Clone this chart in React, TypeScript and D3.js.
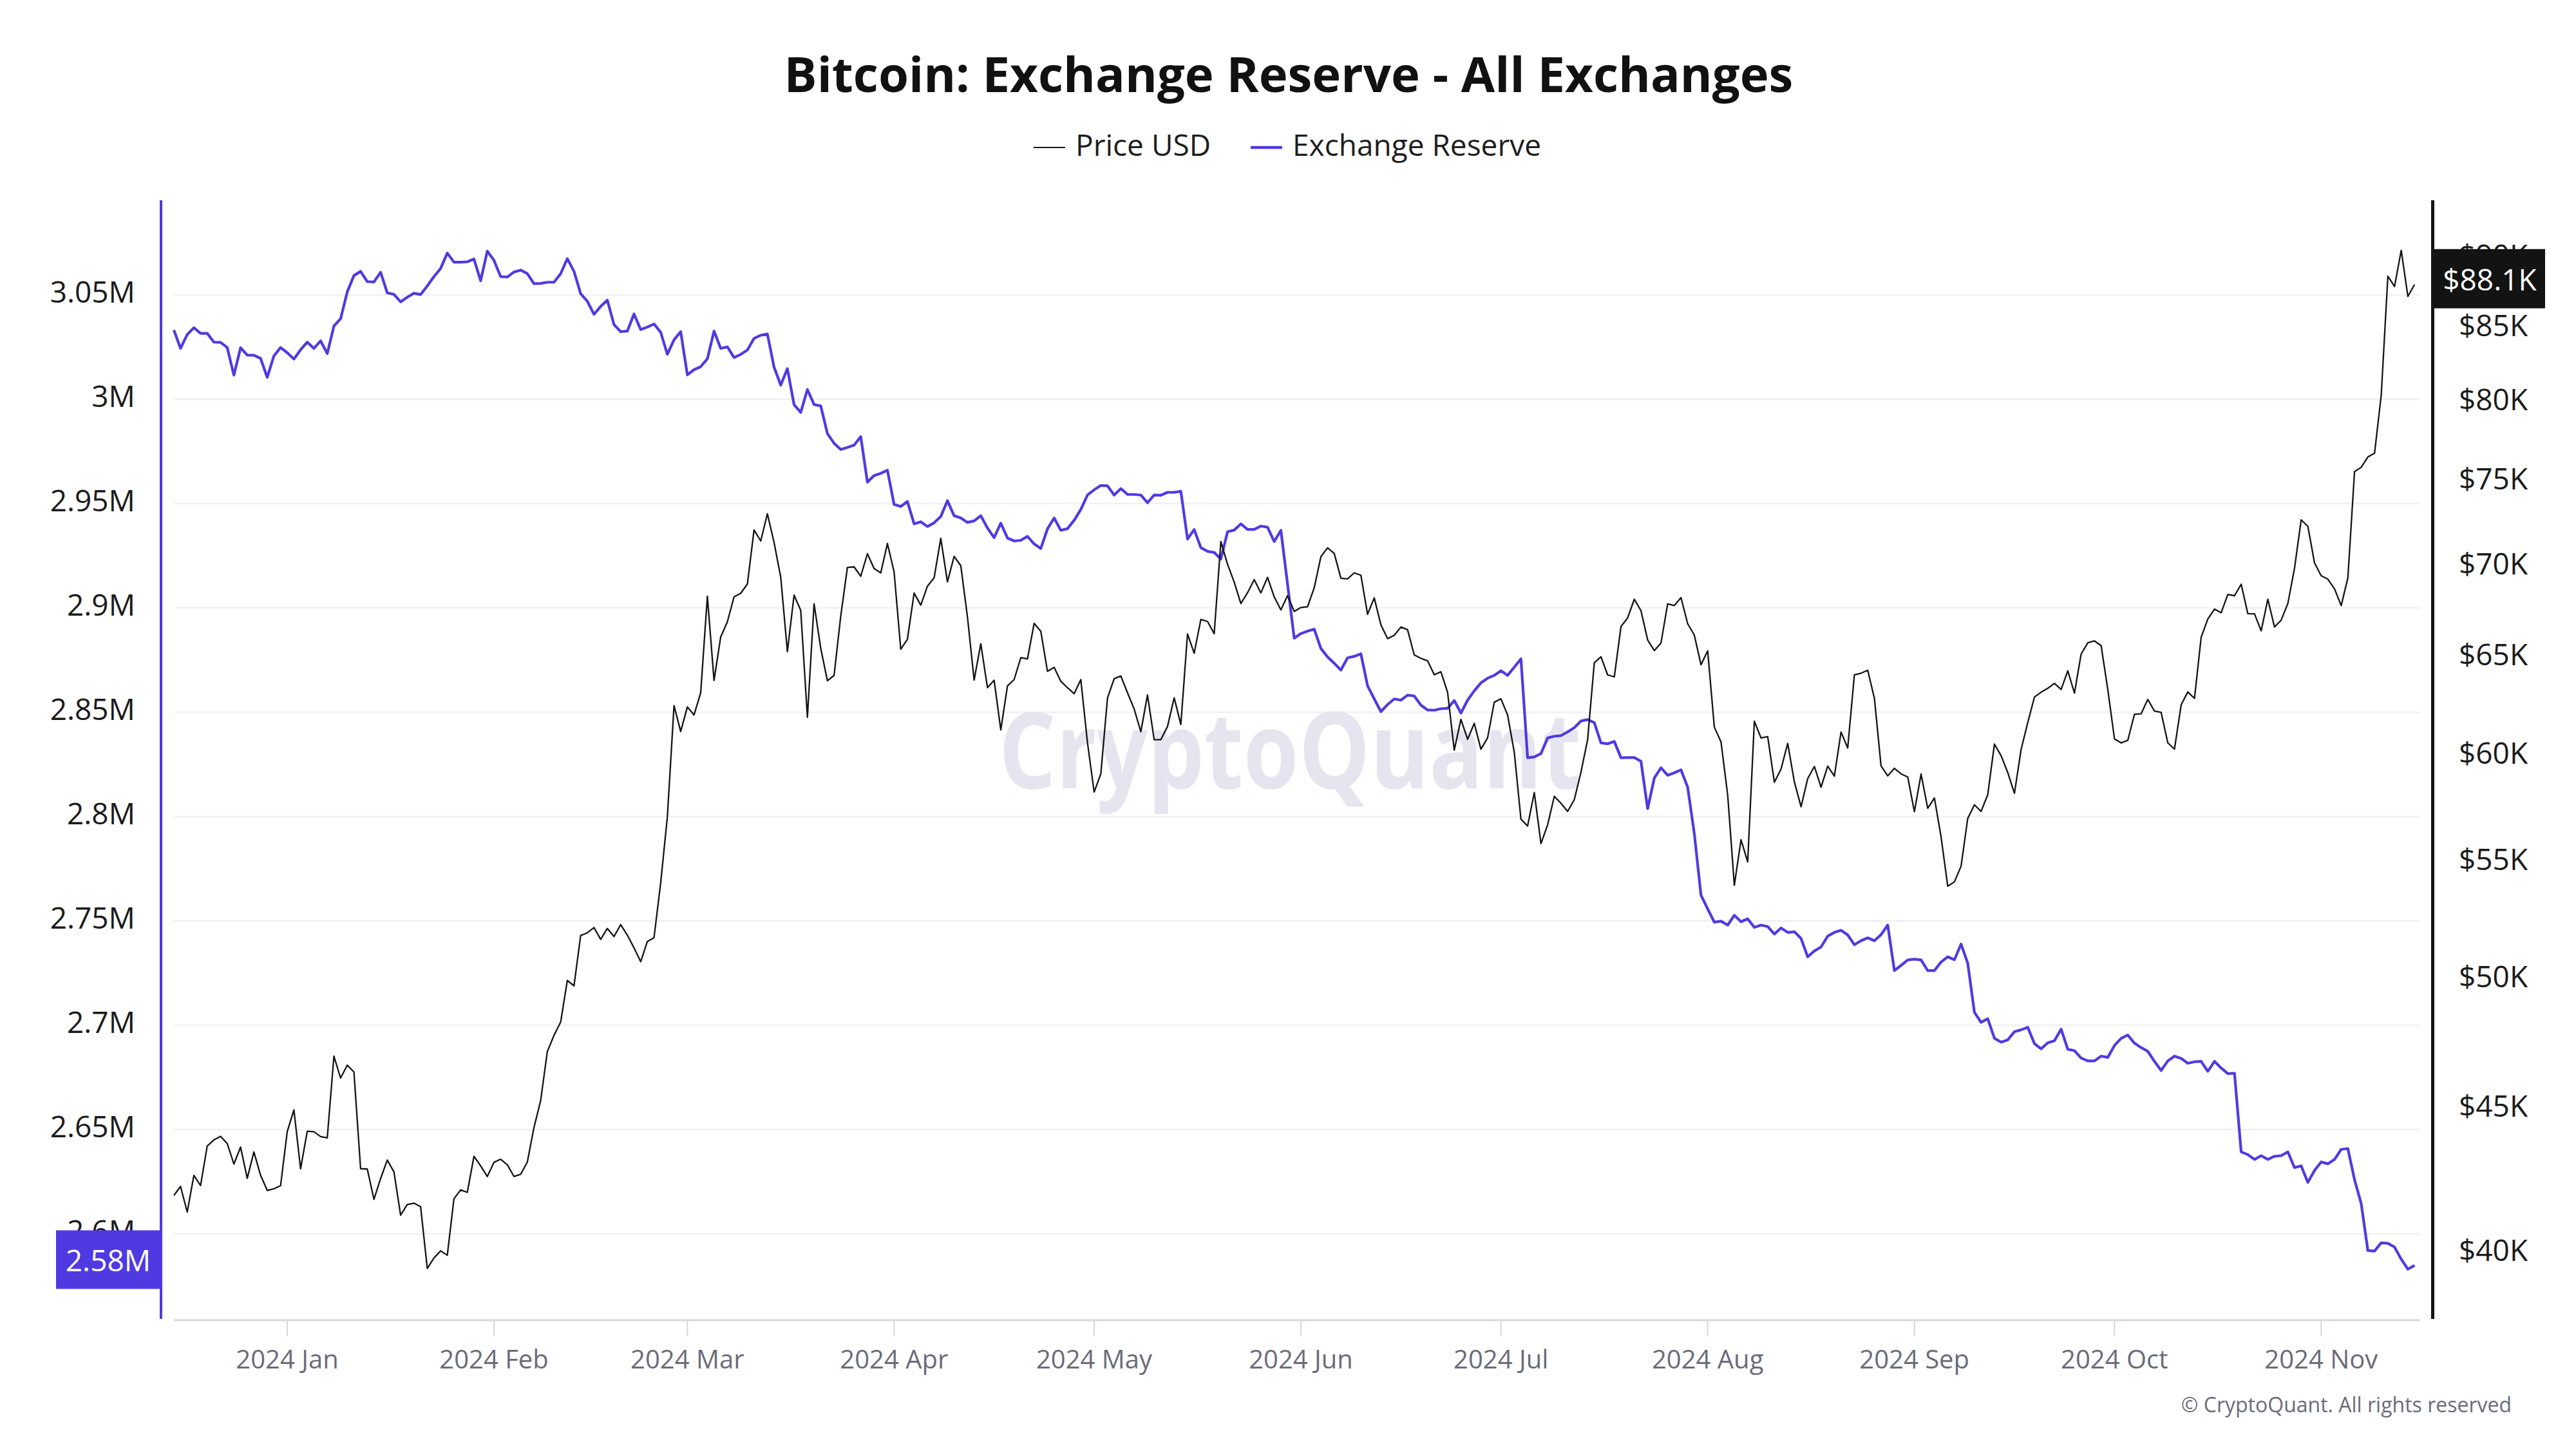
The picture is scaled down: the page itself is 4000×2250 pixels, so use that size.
import React, { useEffect } from 'react';
import * as d3 from 'd3';

// ---------- DATA ----------
const startDate = Date.UTC(2023, 11, 15); // first daily point: 2023-12-15
const DAY = 86400000;

// Bitcoin price USD, daily, 2023-12-15 .. 2024-11-15
const priceUSD = [
  41930, 42240, 41365, 42620, 42270, 43650, 43870, 43997, 43740, 43016, 43613, 42520, 43442, 42627, 42099, 42156, 42265,
  44168, 44958, 42848, 44180, 44162, 43989, 43943, 46970, 46139, 46627, 46368, 42853, 42842, 41796, 42511, 43154, 42742, 41262, 41618, 41665, 41545, 39507, 39846, 40077, 39934, 41816, 42120, 42035, 43288, 42952, 42582,
  43075, 43185, 42992, 42583, 42658, 43084, 44318, 45301, 47147, 47771, 48293, 49958, 49742, 51826, 51938, 52160, 51663, 52122, 51779, 52284, 51839, 51304, 50731, 51571, 51733, 54100, 57085, 62504, 61198,
  62440, 62029, 63167, 68330, 63801, 66106, 66925, 68300, 68498, 69019, 72123, 71481, 73083, 71397, 69403, 65316, 68390, 67548, 61912, 67913, 65491, 63779, 64062, 67234, 69958, 69987, 69455, 70744, 69892, 69645, 71333,
  69702, 65446, 65981, 68508, 67837, 68896, 69362, 71631, 69139, 70587, 70060, 67195, 63821, 65738, 63426, 63811, 61276, 63512, 63843, 64994, 64927, 66837, 66407, 64276, 64481, 63755, 63419, 63114, 63842, 60636,
  58254, 59123, 62889, 63891, 64031, 63162, 62334, 61187, 63050, 60793, 60793, 61448, 62902, 61552, 66267, 65231, 67051, 66941, 66278, 71448, 70137, 69122, 67929, 68526, 69265, 68518, 69394, 68296, 67578, 68364, 67491,
  67706, 67751, 68804, 70567, 71082, 70757, 69342, 69305, 69648, 69512, 67332, 68241, 66756, 66012, 66191, 66639, 66490, 65140, 64960, 64828, 64096, 64252, 63180, 60277, 61804, 60812, 61604, 60321, 60887, 62678,
  62852, 62029, 60173, 56977, 56662, 58230, 55857, 56714, 58052, 57725, 57339, 57889, 59204, 60797, 64724, 65043, 64087, 63987, 66660, 67139, 68165, 67533, 65936, 65372, 65777, 67912, 67813, 68255, 66819, 66201, 64619,
  65357, 61415, 60680, 58116, 53991, 56034, 55027, 61710, 60880, 60945, 58719, 59354, 60609, 58737, 57560, 58894, 59478, 58483, 59493, 59012, 61175, 60381, 64094, 64178, 64333, 62880, 59504, 59027, 59388, 59119, 58969,
  57326, 59113, 57485, 57971, 56160, 53949, 54140, 54841, 57019, 57648, 57343, 58127, 60571, 60005, 59182, 58192, 60309, 61649, 62940, 63192, 63394, 63648, 63329, 64301, 63143, 65181, 65790, 65888, 65635, 63329,
  60837, 60632, 60760, 62067, 62090, 62819, 62224, 62160, 60636, 60326, 62540, 63206, 62870, 66084, 67075, 67620, 67421, 68428, 68362, 69002, 67367, 67361, 66432, 68161, 66642, 67014, 67929, 69907, 72720, 72339, 70215,
  69482, 69289, 68742, 67811, 69360, 75640, 75904, 76545, 76778, 80474, 88701, 87955, 90585, 87250, 88100,
];

// Exchange reserve (millions of BTC), daily, same dates
const exchangeReserveM = [
  3.0332, 3.0244, 3.0310, 3.0343, 3.0316, 3.0316, 3.0274, 3.0273, 3.0248, 3.0116,
  3.0247, 3.0212, 3.0211, 3.0196, 3.0105, 3.0208, 3.0248, 3.0223, 3.0193, 3.0237,
  3.0274, 3.0244, 3.0280, 3.0219, 3.0351, 3.0386, 3.0515, 3.0593, 3.0613, 3.0564,
  3.0562, 3.0609, 3.0510, 3.0503, 3.0467, 3.0489, 3.0508, 3.0502, 3.0543, 3.0588,
  3.0627, 3.0701, 3.0657, 3.0657, 3.0659, 3.0672, 3.0568, 3.0710, 3.0666, 3.0588,
  3.0586, 3.0610, 3.0619, 3.0602, 3.0554, 3.0555, 3.0561, 3.0561, 3.0602, 3.0674,
  3.0613, 3.0506, 3.0470, 3.0407, 3.0445, 3.0475, 3.0358, 3.0324, 3.0327, 3.0409,
  3.0334, 3.0346, 3.0361, 3.0321, 3.0216, 3.0285, 3.0324, 3.0117, 3.0142, 3.0156,
  3.0194, 3.0327, 3.0244, 3.0251, 3.0200, 3.0215, 3.0236, 3.0292, 3.0307, 3.0313,
  3.0154, 3.0068, 3.0147, 2.9974, 2.9937, 3.0047, 2.9975, 2.9968, 2.9836, 2.9789,
  2.9759, 2.9769, 2.9780, 2.9821, 2.9603, 2.9634, 2.9645, 2.9660, 2.9496, 2.9486,
  2.9510, 2.9403, 2.9413, 2.9390, 2.9408, 2.9438, 2.9514, 2.9442, 2.9431, 2.9410,
  2.9417, 2.9442, 2.9383, 2.9337, 2.9406, 2.9335, 2.9321, 2.9324, 2.9343, 2.9307,
  2.9285, 2.9379, 2.9431, 2.9372, 2.9380, 2.9420, 2.9472, 2.9541, 2.9566, 2.9587,
  2.9585, 2.9541, 2.9572, 2.9544, 2.9544, 2.9541, 2.9504, 2.9541, 2.9540, 2.9554,
  2.9554, 2.9559, 2.9330, 2.9376, 2.9289, 2.9271, 2.9266, 2.9234, 2.9365, 2.9373,
  2.9403, 2.9376, 2.9376, 2.9392, 2.9387, 2.9318, 2.9372, 2.9114, 2.8855, 2.8877,
  2.8889, 2.8898, 2.8806, 2.8765, 2.8735, 2.8702, 2.8761, 2.8768, 2.8780, 2.8627,
  2.8564, 2.8503, 2.8537, 2.8564, 2.8558, 2.8582, 2.8578, 2.8534, 2.8511, 2.8510,
  2.8517, 2.8519, 2.8556, 2.8496, 2.8558, 2.8603, 2.8641, 2.8663, 2.8677, 2.8699,
  2.8677, 2.8716, 2.8756, 2.8282, 2.8286, 2.8302, 2.8377, 2.8385, 2.8388, 2.8406,
  2.8426, 2.8458, 2.8465, 2.8450, 2.8353, 2.8349, 2.8360, 2.8282, 2.8283, 2.8283,
  2.8265, 2.8038, 2.8185, 2.8234, 2.8198, 2.8210, 2.8224, 2.8141, 2.7917, 2.7623,
  2.7558, 2.7494, 2.7499, 2.7480, 2.7527, 2.7496, 2.7510, 2.7469, 2.7480, 2.7473,
  2.7437, 2.7466, 2.7445, 2.7448, 2.7416, 2.7328, 2.7356, 2.7375, 2.7427, 2.7445,
  2.7455, 2.7433, 2.7386, 2.7405, 2.7419, 2.7405, 2.7434, 2.7480, 2.7262, 2.7287,
  2.7313, 2.7317, 2.7313, 2.7262, 2.7262, 2.7303, 2.7328, 2.7314, 2.7389, 2.7297,
  2.7062, 2.7014, 2.7031, 2.6938, 2.6919, 2.6930, 2.6969, 2.6978, 2.6990, 2.6912,
  2.6887, 2.6916, 2.6926, 2.6981, 2.6885, 2.6878, 2.6843, 2.6829, 2.6829, 2.6852,
  2.6846, 2.6903, 2.6937, 2.6953, 2.6914, 2.6893, 2.6875, 2.6827, 2.6783, 2.6829,
  2.6852, 2.6841, 2.6818, 2.6825, 2.6827, 2.6779, 2.6827, 2.6795, 2.6768, 2.6770,
  2.6393, 2.6380, 2.6357, 2.6375, 2.6357, 2.6372, 2.6375, 2.6393, 2.6318, 2.6326,
  2.6247, 2.6304, 2.6345, 2.6336, 2.6357, 2.6405, 2.6409, 2.6260, 2.6145, 2.5920,
  2.5918, 2.5957, 2.5955, 2.5937, 2.5879, 2.5831, 2.5849,
];

const reserveTicks = [2.6, 2.65, 2.7, 2.75, 2.8, 2.85, 2.9, 2.95, 3.0, 3.05];
const priceTicks = [40000, 45000, 50000, 55000, 60000, 65000, 70000, 75000, 80000, 85000, 90000];
const monthTickDates = [
  '2024-01-01', '2024-02-01', '2024-03-01', '2024-04-01', '2024-05-01', '2024-06-01',
  '2024-07-01', '2024-08-01', '2024-09-01', '2024-10-01', '2024-11-01',
];
const monthTickLabels = [
  '2024 Jan', '2024 Feb', '2024 Mar', '2024 Apr', '2024 May', '2024 Jun',
  '2024 Jul', '2024 Aug', '2024 Sep', '2024 Oct', '2024 Nov',
];

const TITLE = 'Bitcoin: Exchange Reserve - All Exchanges';
const SERIES_PRICE = 'Price USD';
const SERIES_RESERVE = 'Exchange Reserve';

// ---------- STYLE ----------
const PURPLE = '#4f3ae2';
const BLACK = '#141414';
const FONT = "'Open Sans', 'Noto Sans', 'DejaVu Sans', sans-serif";

export default function App() {
  useEffect(() => {
    document.body.style.margin = '0';
  }, []);

  const W = 4000;
  const H = 2250;
  const plotLeft = 270;
  const plotRight = 3758;
  const plotTop = 311;
  const plotBottom = 2048;

  const dates = priceUSD.map((_, i) => new Date(startDate + i * DAY));

  const x = d3
    .scaleUtc()
    .domain([new Date(startDate), new Date(startDate + 336.84 * DAY)])
    .range([plotLeft, plotRight]);
  const yL = d3.scaleLinear().domain([2.6, 3.05]).range([1916, 458]);
  const yR = d3.scaleLog().domain([40000, 85000]).range([1946, 510]);

  const reserveLine = d3
    .line<number>()
    .x((_, i) => x(dates[i]))
    .y((d) => yL(d));
  const priceLine = d3
    .line<number>()
    .x((_, i) => x(dates[i]))
    .y((d) => yR(d));

  const lastReserve = exchangeReserveM[exchangeReserveM.length - 1];
  const lastPrice = priceUSD[priceUSD.length - 1];
  const fmtReserve = (v: number) => `${+v.toFixed(2)}M`;
  const fmtPrice = (v: number) => `$${Math.round(v / 1000)}K`;
  const reserveBadge = `${d3.format('.3~r')(lastReserve)}M`;
  const priceBadge = `$${(lastPrice / 1000).toFixed(1)}K`;

  const lbY = yL(lastReserve) - 9;
  const rbY = yR(lastPrice) - 9;

  return (
    <svg
      width={W}
      height={H}
      viewBox={`0 0 ${W} ${H}`}
      style={{ position: 'absolute', left: 0, top: 0, display: 'block', background: '#fff' }}
      fontFamily={FONT}
    >
      <rect x={0} y={0} width={W} height={H} fill="#ffffff" />

      {/* Title */}
      <text x={2001} y={143} textAnchor="middle" fontSize={76} fontWeight={700} fill="#111">
        {TITLE}
      </text>

      {/* Legend */}
      <line x1={1605} x2={1654} y1={229} y2={229} stroke={BLACK} strokeWidth={2.2} />
      <text x={1670} y={242} fontSize={46} fill="#1e1e1e">
        {SERIES_PRICE}
      </text>
      <line x1={1942} x2={1991} y1={229} y2={229} stroke={PURPLE} strokeWidth={4.5} />
      <text x={2007} y={242} fontSize={46} fill="#1e1e1e">
        {SERIES_RESERVE}
      </text>

      {/* Grid */}
      {reserveTicks.map((t) => (
        <line
          key={`g${t}`}
          x1={plotLeft}
          x2={plotRight}
          y1={yL(t)}
          y2={yL(t)}
          stroke="#f0f0f3"
          strokeWidth={2.5}
        />
      ))}

      {/* Watermark */}
      <text
        x={2003}
        y={1224}
        textAnchor="middle"
        fontSize={165}
        fontWeight={700}
        fill="#e6e5ef"
        textLength={904}
        lengthAdjust="spacingAndGlyphs"
      >
        CryptoQuant
      </text>

      {/* X axis */}
      <line x1={plotLeft} x2={plotRight} y1={2050} y2={2050} stroke="#d9d8e2" strokeWidth={3} />
      {monthTickDates.map((d, i) => {
        const xx = x(new Date(d + 'T00:00:00Z'));
        return (
          <g key={d}>
            <line x1={xx} x2={xx} y1={2051} y2={2075} stroke="#d6d6df" strokeWidth={2} />
            <text x={xx} y={2125} textAnchor="middle" fontSize={40} fill="#6b6b7a">
              {monthTickLabels[i]}
            </text>
          </g>
        );
      })}

      {/* Left axis */}
      <line x1={250} x2={250} y1={plotTop} y2={plotBottom} stroke={PURPLE} strokeWidth={4} />
      {reserveTicks.map((t) => (
        <text
          key={`l${t}`}
          x={210}
          y={yL(t) - 6}
          textAnchor="end"
          dominantBaseline="central"
          fontSize={46}
          fill="#1b1b1b"
        >
          {fmtReserve(t)}
        </text>
      ))}

      {/* Right axis */}
      <line x1={3777.5} x2={3777.5} y1={plotTop} y2={plotBottom} stroke={BLACK} strokeWidth={5} />
      {priceTicks.map((t) => (
        <text
          key={`r${t}`}
          x={3818}
          y={yR(t) - 6}
          textAnchor="start"
          dominantBaseline="central"
          fontSize={46}
          fill="#1b1b1b"
        >
          {fmtPrice(t)}
        </text>
      ))}

      {/* Series */}
      <path d={reserveLine(exchangeReserveM) || ''} fill="none" stroke={PURPLE} strokeWidth={4.2} strokeLinejoin="round" />
      <path d={priceLine(priceUSD) || ''} fill="none" stroke={BLACK} strokeWidth={2.3} strokeLinejoin="round" />

      {/* Last value badges */}
      <rect x={87} y={lbY - 45.5} width={161} height={91} fill={PURPLE} />
      <text x={168} y={lbY} textAnchor="middle" dominantBaseline="central" fontSize={46} fill="#fff">
        {reserveBadge}
      </text>
      <rect x={3779} y={rbY - 46} width={173} height={92} fill="#131313" />
      <text x={3866} y={rbY} textAnchor="middle" dominantBaseline="central" fontSize={46} fill="#fff">
        {priceBadge}
      </text>

      {/* Copyright */}
      <text x={3900} y={2193} textAnchor="end" fontSize={32} fill="#6b6b7a">
        © CryptoQuant. All rights reserved
      </text>
    </svg>
  );
}
